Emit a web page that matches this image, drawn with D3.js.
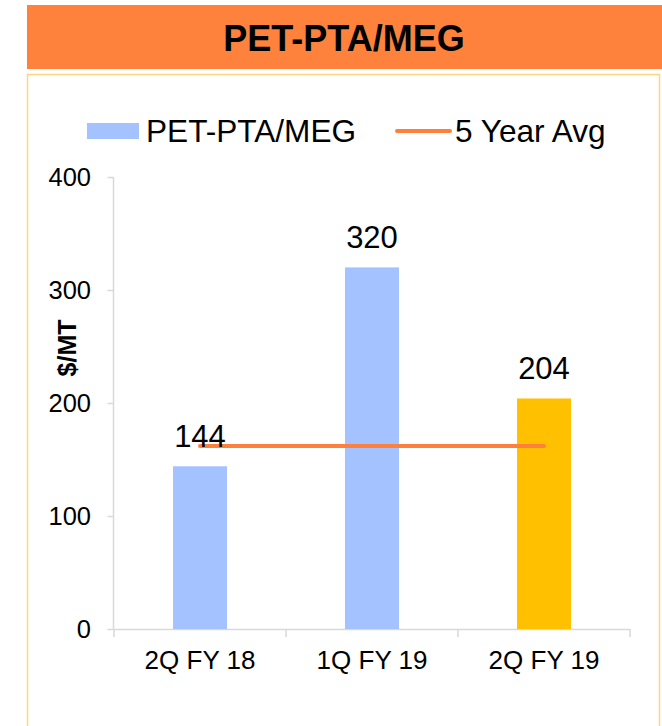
<!DOCTYPE html>
<html>
<head>
<meta charset="utf-8">
<script src="https://cdn.jsdelivr.net/npm/d3@7"></script>
<style>
  body { margin: 0; background: #fff; }
  text { font-family: "Liberation Sans", Arial, sans-serif; fill: #000; }
</style>
</head>
<body>
<svg id="chart" width="662" height="726"></svg>
<script>
// chart data
var categories = ["2Q FY 18", "1Q FY 19", "2Q FY 19"];
var values = [144, 320, 204];
var barColors = ["#A4C2FF", "#A4C2FF", "#FFC000"];
var avgValue = 162;
var yTicks = [0, 100, 200, 300, 400];
var title = "PET-PTA/MEG";
var seriesName = "PET-PTA/MEG";
var avgName = "5 Year Avg";

var svg = d3.select("#chart");

// header band
svg.append("rect")
    .attr("x", 27).attr("y", 5)
    .attr("width", 635).attr("height", 64)
    .attr("fill", "#FF823C");
svg.append("text")
    .attr("x", 344).attr("y", 51)
    .attr("text-anchor", "middle")
    .style("font-size", "36px")
    .style("font-weight", "bold")
    .text(title);

// panel
svg.append("rect")
    .attr("x", 27.5).attr("y", 74.5)
    .attr("width", 632).attr("height", 700)
    .attr("fill", "#fff")
    .attr("stroke", "#FFD67F")
    .attr("stroke-width", 1.5);

var x = d3.scaleBand()
    .domain(categories)
    .range([114, 630])
    .paddingInner(0.686)
    .paddingOuter(0.343);

var y = d3.scaleLinear()
    .domain([0, 400])
    .range([629, 177]);

var axisColor = "#D9D9D9";

// y axis
var yAxis = svg.append("g").attr("transform", "translate(113.5,0)");
yAxis.append("line")
    .attr("y1", y(400)).attr("y2", y(0))
    .attr("stroke", axisColor).attr("stroke-width", 1.5);
yAxis.selectAll("line.tick").data(yTicks).enter().append("line")
    .attr("class", "tick")
    .attr("x1", -6).attr("x2", 0)
    .attr("y1", function(d) { return Math.round(y(d)) + 0.5; })
    .attr("y2", function(d) { return Math.round(y(d)) + 0.5; })
    .attr("stroke", axisColor).attr("stroke-width", 1.5);
svg.selectAll("text.ytick").data(yTicks).enter().append("text")
    .attr("class", "ytick")
    .attr("x", 91)
    .attr("y", function(d) { return y(d) + 9; })
    .attr("text-anchor", "end")
    .style("font-size", "25.5px")
    .text(function(d) { return d; });

// y title
svg.append("text")
    .attr("transform", "translate(76,348) rotate(-90)")
    .attr("text-anchor", "middle")
    .style("font-size", "25px")
    .style("font-weight", "bold")
    .text("$/MT");

// x axis
svg.append("line")
    .attr("x1", 114).attr("x2", 630)
    .attr("y1", y(0) + 0.5).attr("y2", y(0) + 0.5)
    .attr("stroke", axisColor).attr("stroke-width", 1.5);
svg.selectAll("line.xtick").data(categories.concat([null])).enter().append("line")
    .attr("class", "xtick")
    .attr("x1", function(d, i) { return i < categories.length ? x(d) - x.step() * 0.343 : x.range()[1]; })
    .attr("x2", function(d, i) { return i < categories.length ? x(d) - x.step() * 0.343 : x.range()[1]; })
    .attr("y1", y(0)).attr("y2", y(0) + 8)
    .attr("stroke", axisColor).attr("stroke-width", 1.5);
svg.selectAll("text.xlab").data(categories).enter().append("text")
    .attr("class", "xlab")
    .attr("x", function(d) { return x(d) + x.bandwidth() / 2; })
    .attr("y", 669)
    .attr("text-anchor", "middle")
    .style("font-size", "26px")
    .text(function(d) { return d; });

// bars
svg.selectAll("rect.bar").data(values).enter().append("rect")
    .attr("class", "bar")
    .attr("x", function(d, i) { return x(categories[i]); })
    .attr("width", x.bandwidth())
    .attr("y", function(d) { return y(d); })
    .attr("height", function(d) { return y(0) - y(d); })
    .attr("fill", function(d, i) { return barColors[i]; });

// 5 year avg line
var line = d3.line()
    .x(function(d) { return x(d) + x.bandwidth() / 2; })
    .y(function() { return y(avgValue); });
svg.append("path")
    .datum(categories)
    .attr("d", line)
    .attr("fill", "none")
    .attr("stroke", "#FF803C")
    .attr("stroke-width", 4)
    .attr("stroke-linecap", "round");

// data labels
svg.selectAll("text.val").data(values).enter().append("text")
    .attr("class", "val")
    .attr("x", function(d, i) { return x(categories[i]) + x.bandwidth() / 2; })
    .attr("y", function(d) { return y(d) - 19; })
    .attr("text-anchor", "middle")
    .style("font-size", "31px")
    .text(function(d) { return d; });

// legend
var legend = svg.append("g");
legend.append("rect")
    .attr("x", 87).attr("y", 123)
    .attr("width", 52).attr("height", 16)
    .attr("fill", barColors[0]);
legend.append("text")
    .attr("x", 146).attr("y", 142)
    .style("font-size", "31.6px")
    .text(seriesName);
legend.append("line")
    .attr("x1", 397).attr("x2", 450)
    .attr("y1", 131).attr("y2", 131)
    .attr("stroke", "#FF803C")
    .attr("stroke-width", 4)
    .attr("stroke-linecap", "round");
legend.append("text")
    .attr("x", 455).attr("y", 142)
    .style("font-size", "31.6px")
    .text(avgName);
</script>
</body>
</html>
